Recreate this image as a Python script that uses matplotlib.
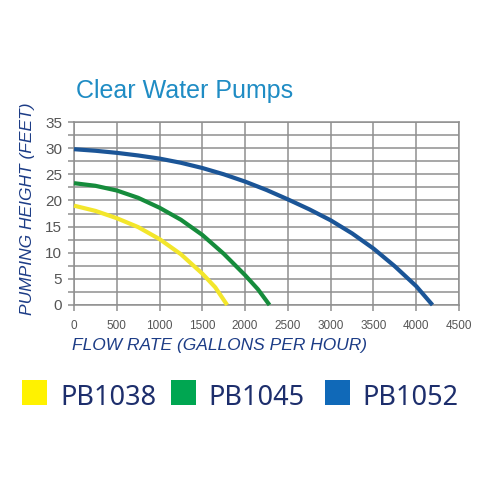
import matplotlib
matplotlib.use('Agg')
import matplotlib.pyplot as plt
from matplotlib.patches import Rectangle
from matplotlib.ticker import MultipleLocator

# (flow in gal/h, head in feet)
pb1038_flow = [0, 250, 500, 750, 1000, 1250, 1500, 1650, 1790]
pb1038_head = [19.0, 18.0, 16.6, 14.9, 12.6, 9.7, 6.0, 3.4, 0]

pb1045_flow = [0, 250, 500, 750, 1000, 1250, 1500, 1750, 2000, 2150, 2285]
pb1045_head = [23.3, 22.8, 21.9, 20.5, 18.6, 16.3, 13.4, 9.8, 5.7, 3.0, 0]

pb1052_flow = [0, 250, 500, 750, 1000, 1250, 1500, 1750, 2000, 2250, 2500,
               2750, 3000, 3250, 3500, 3750, 4000, 4190]
pb1052_head = [29.8, 29.5, 29.1, 28.6, 28.0, 27.2, 26.2, 25.0, 23.6, 22.0, 20.2,
               18.3, 16.2, 13.7, 10.8, 7.4, 3.6, 0]

pump_names = ['PB1038', 'PB1045', 'PB1052']
line_colors = ['#f3e62b', '#168c3c', '#1b5597']
swatch_colors = ['#fff200', '#00a651', '#1069b8']

TITLE_COLOR = '#1f8cc4'
LABEL_COLOR = '#1c3c86'
GRID_COLOR = '#8f8f8f'
TICK_COLOR = '#555555'


def main():
  fig = plt.figure(figsize=(5, 5), dpi=100)
  ax = fig.add_axes([0.148, 0.39, 0.77, 0.366])

  series = [(pb1038_flow, pb1038_head), (pb1045_flow, pb1045_head),
            (pb1052_flow, pb1052_head)]
  for (flow, head), color in zip(series, line_colors):
    ax.plot(flow, head, color=color, lw=3.0, clip_on=False, zorder=3,
            solid_capstyle='butt', solid_joinstyle='round')

  ax.set_xlim(0, 4500)
  ax.set_ylim(0, 35)
  ax.xaxis.set_major_locator(MultipleLocator(500))
  ax.yaxis.set_major_locator(MultipleLocator(5))
  ax.yaxis.set_minor_locator(MultipleLocator(2.5))

  ax.grid(True, which='major', color=GRID_COLOR, lw=1.1)
  ax.grid(True, which='minor', axis='y', color=GRID_COLOR, lw=1.1)
  for spine in ax.spines.values():
    spine.set_color(GRID_COLOR)
    spine.set_linewidth(1.1)

  ax.tick_params(axis='both', which='both', color=GRID_COLOR, width=1.1,
                 length=4.5, labelcolor=TICK_COLOR)
  ax.tick_params(axis='x', labelsize=8.5, pad=6)
  ax.tick_params(axis='y', labelsize=11, pad=4)
  for lbl in ax.get_xticklabels() + ax.get_yticklabels():
    lbl.set_family('Liberation Sans')

  ax.set_xlabel('FLOW RATE (GALLONS PER HOUR)', loc='left', fontsize=12.5,
                style='italic', color=LABEL_COLOR, family='Liberation Sans')
  ax.xaxis.set_label_coords(-0.005, -0.246)
  ax.xaxis.label.set_va('baseline')

  ax.set_ylabel('PUMPING HEIGHT (FEET)', fontsize=12.5, style='italic',
                color=LABEL_COLOR, family='Liberation Sans')
  ax.yaxis.label.set_va('center')
  ax.yaxis.set_label_coords(-0.122, 0.525)

  fig.text(0.152, 0.804, 'Clear Water Pumps', fontsize=18, color=TITLE_COLOR,
           family='Liberation Sans', va='baseline')

  # legend row under the chart
  swatch_x = [22, 171, 325]
  text_x = [60, 208, 362]
  for name, color, sx, tx in zip(pump_names, swatch_colors, swatch_x, text_x):
    fig.patches.append(Rectangle((sx / 500, 1 - 405 / 500), 25 / 500, 25 / 500,
                                 transform=fig.transFigure, facecolor=color,
                                 edgecolor='none'))
    fig.text(tx / 500, 1 - 405 / 500, name, fontsize=19.5, color='#1d2e6c',
             family='Noto Sans', va='baseline')

  fig.savefig('out.png', dpi=100, facecolor='white')


if __name__ == '__main__':
  main()
